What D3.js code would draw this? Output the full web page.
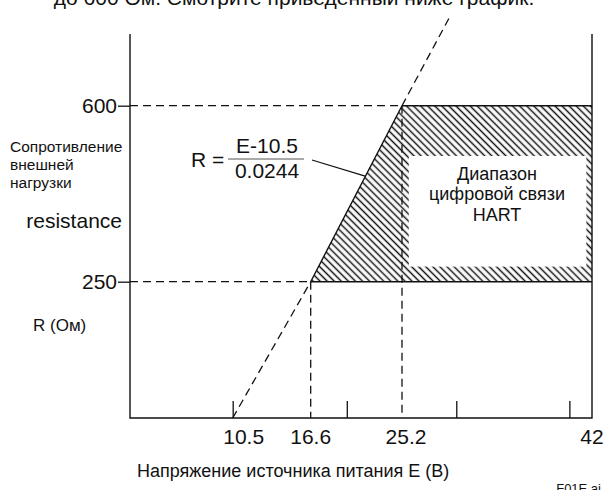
<!DOCTYPE html>
<html>
<head>
<meta charset="utf-8">
<script src="https://cdn.jsdelivr.net/npm/d3@7"></script>
<style>
  body { margin: 0; background: #fff; }
  svg { display: block; font-family: "Liberation Sans", Arial, sans-serif; }
</style>
</head>
<body>
<svg width="605" height="490"></svg>
<script>
// values
var voltageLabels = [10.5, 16.6, 25.2, 42];
var voltageTicks = [10.5, 20, 30, 40];
var resistanceTicks = [250, 600];
// load line R = (E-10.5)/0.0244
var loadLineE = [10.5, 16.6, 25.2, 29.5];
var loadLineR = [0, 250, 600, 780];
// HART communication area (corners)
var hartE = [16.6, 25.2, 42, 42];
var hartR = [250, 600, 600, 250];
// white window inside the hatched band
var windowE = [25.8, 41.5];
var windowR = [280, 500];

var svg = d3.select("svg");
var frame = { left: 130, right: 592, top: 34, bottom: 418 };

// the drawing is not to scale, so the scales are piecewise
var x = d3.scaleLinear()
  .domain([10.5, 16.6, 25.2, 42])
  .range([232.7, 310.7, 402, frame.right]);
var y = d3.scaleLinear()
  .domain([0, 250, 600])
  .range([frame.bottom, 281.7, 105.7]);

var ink = "#111";

var defs = svg.append("defs");
defs.append("pattern")
  .attr("id", "hatch")
  .attr("patternUnits", "userSpaceOnUse")
  .attr("width", 5)
  .attr("height", 10)
  .attr("patternTransform", "rotate(-45)")
  .append("line")
  .attr("x1", 2.5).attr("x2", 2.5)
  .attr("y1", -1).attr("y2", 11)
  .style("stroke", ink)
  .style("stroke-width", 1.5);

// hatched area
var hart = hartE.map(function (e, i) { return [x(e), y(hartR[i])]; });
svg.append("path")
  .attr("d", "M" + hart.join("L") + "Z")
  .style("fill", "url(#hatch)");

svg.append("rect")
  .attr("x", x(windowE[0]))
  .attr("y", y(windowR[1]))
  .attr("width", x(windowE[1]) - x(windowE[0]))
  .attr("height", y(windowR[0]) - y(windowR[1]))
  .style("fill", "#fff");

// dashed guides
var dashed = [
  [[frame.left, y(600)], [x(25.2), y(600)]],
  [[frame.left, y(250)], [x(16.6), y(250)]],
  [[x(16.6), y(250)], [x(16.6), frame.bottom]],
  [[x(25.2), y(600)], [x(25.2), frame.bottom]]
];
svg.selectAll("line.guide")
  .data(dashed)
  .enter()
  .append("line")
  .attr("class", "guide")
  .attr("x1", function (d) { return d[0][0]; })
  .attr("y1", function (d) { return d[0][1]; })
  .attr("x2", function (d) { return d[1][0]; })
  .attr("y2", function (d) { return d[1][1]; })
  .style("stroke", ink)
  .style("stroke-width", 1.3)
  .style("stroke-dasharray", "8,5");

// load line: dashed outside the area, solid along it
var line = d3.line()
  .x(function (d) { return x(d.e); })
  .y(function (d) { return y(d.r); });
var pts = loadLineE.map(function (e, i) { return { e: e, r: loadLineR[i] }; });
svg.append("path")
  .attr("d", line(pts.slice(0, 2)))
  .style("fill", "none").style("stroke", ink).style("stroke-width", 1.3)
  .style("stroke-dasharray", "8,5");
svg.append("path")
  .attr("d", line(pts.slice(2, 4)))
  .style("fill", "none").style("stroke", ink).style("stroke-width", 1.3)
  .style("stroke-dasharray", "8,5");
svg.append("path")
  .attr("d", line(pts.slice(1, 3)))
  .style("fill", "none").style("stroke", ink).style("stroke-width", 1.4);

// solid edges of the area
svg.append("path")
  .attr("d", "M" + x(25.2) + "," + y(600) + "H" + frame.right +
    "M" + x(16.6) + "," + y(250) + "H" + frame.right)
  .style("stroke", ink).style("stroke-width", 1.4);

// frame
svg.append("path")
  .attr("d", "M" + frame.left + "," + frame.top + "V" + frame.bottom +
    "H" + frame.right + "V" + frame.top)
  .style("fill", "none").style("stroke", ink).style("stroke-width", 1.4);

// axes
var xAxis = d3.axisBottom(x)
  .tickValues(voltageTicks)
  .tickSize(-17)
  .tickSizeOuter(0)
  .tickFormat("");
var gX = svg.append("g")
  .attr("transform", "translate(0," + frame.bottom + ")")
  .call(xAxis);
gX.select(".domain").remove();
gX.selectAll(".tick line").style("stroke", ink).style("stroke-width", 1.3);

svg.selectAll("text.xlabel")
  .data(voltageLabels)
  .enter()
  .append("text")
  .attr("class", "xlabel")
  .attr("x", function (d, i) { return x(d) + (i == 0 ? 11 : i == 2 ? 4 : 0); })
  .attr("y", 444)
  .attr("text-anchor", "middle")
  .style("font-size", "21px")
  .style("fill", ink)
  .text(function (d) { return d; });

var yAxis = d3.axisLeft(y)
  .tickValues(resistanceTicks)
  .tickSize(12)
  .tickPadding(1);
var gY = svg.append("g")
  .attr("transform", "translate(" + frame.left + ",0)")
  .call(yAxis);
gY.select(".domain").remove();
gY.selectAll(".tick line").style("stroke", ink).style("stroke-width", 1.3);
gY.selectAll(".tick text")
  .style("font-size", "21px")
  .style("font-family", "Liberation Sans, Arial, sans-serif")
  .style("fill", ink);

// texts
svg.append("text")
  .attr("x", 294).attr("y", 5)
  .attr("text-anchor", "middle")
  .style("font-size", "21px").style("fill", ink)
  .text("до 600 Ом. Смотрите приведенный ниже график.");

var yLabel = svg.append("text")
  .attr("x", 10)
  .style("font-size", "15.5px").style("fill", ink);
["Сопротивление", "внешней", "нагрузки"].forEach(function (t, i) {
  yLabel.append("tspan").attr("x", 10).attr("y", 151.7 + i * 18.3).text(t);
});
svg.append("text")
  .attr("x", 122).attr("y", 228)
  .attr("text-anchor", "end")
  .style("font-size", "21px").style("fill", ink)
  .text("resistance");
svg.append("text")
  .attr("x", 33).attr("y", 331)
  .style("font-size", "17px").style("fill", ink)
  .text("R (Ом)");

// formula
svg.append("text")
  .attr("x", 191).attr("y", 167)
  .style("font-size", "21px").style("fill", ink)
  .text("R =");
svg.append("text")
  .attr("x", 267).attr("y", 153)
  .attr("text-anchor", "middle")
  .style("font-size", "21px").style("fill", ink)
  .text("E-10.5");
svg.append("text")
  .attr("x", 267).attr("y", 178)
  .attr("text-anchor", "middle")
  .style("font-size", "21px").style("fill", ink)
  .text("0.0244");
svg.append("line")
  .attr("x1", 228).attr("x2", 304)
  .attr("y1", 159).attr("y2", 159)
  .style("stroke", "#555").style("stroke-width", 1);
var leaderE = 10.5 + 0.0244 * 460;
svg.append("line")
  .attr("x1", 312).attr("y1", 160)
  .attr("x2", x(leaderE)).attr("y2", y(460))
  .style("stroke", ink).style("stroke-width", 1.2);

var hartLabel = svg.append("text")
  .attr("text-anchor", "middle")
  .style("font-size", "18px").style("fill", ink);
["Диапазон", "цифровой связи", "HART"].forEach(function (t, i) {
  hartLabel.append("tspan").attr("x", 497).attr("y", 179.5 + i * 20.7).text(t);
});

svg.append("text")
  .attr("x", 137).attr("y", 477)
  .style("font-size", "18px").style("fill", ink)
  .text("Напряжение источника питания Е (В)");
svg.append("text")
  .attr("x", 601).attr("y", 493)
  .attr("text-anchor", "end")
  .style("font-size", "13px").style("fill", ink)
  .text("F01E.ai");
</script>
</body>
</html>
